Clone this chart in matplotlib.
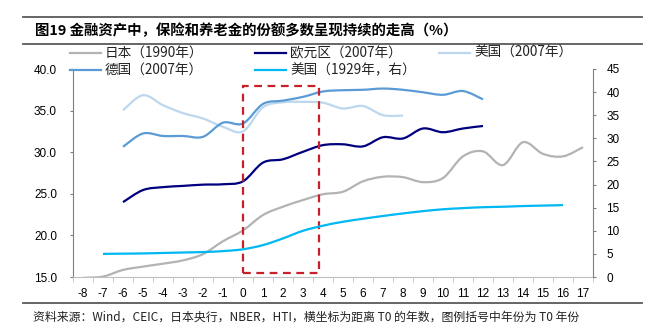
import numpy as np
import matplotlib
matplotlib.use("Agg")
import matplotlib.pyplot as plt
from matplotlib.path import Path
from matplotlib.patches import PathPatch, Rectangle
from matplotlib.lines import Line2D

plt.rcParams['font.family'] = ['Noto Sans CJK SC', 'DejaVu Sans']

# years from T0
x_japan = list(range(-8, 18))
japan = [14.9, 15.05, 15.85, 16.25, 16.6, 17.0, 17.75, 19.3, 20.6, 22.45, 23.45, 24.25, 24.95,
         25.25, 26.5, 27.05, 27.0, 26.4, 26.9, 29.5, 30.1, 28.45, 31.2, 29.8, 29.5, 30.6]
x_euro = list(range(-6, 13))
euro = [24.0, 25.45, 25.8, 25.95, 26.1, 26.15, 26.5, 28.75, 29.15, 30.05, 30.85, 30.95, 30.7,
        31.8, 31.65, 32.85, 32.4, 32.85, 33.15]
x_us07 = list(range(-6, 9))
us07 = [35.05, 36.85, 35.65, 34.7, 34.05, 33.05, 32.5, 35.4, 36.0, 36.05, 35.95, 35.25, 35.55,
        34.45, 34.4]
x_de = list(range(-6, 13))
germany = [30.65, 32.25, 31.95, 31.95, 31.85, 33.55, 33.45, 35.8, 36.2, 36.65, 37.3, 37.45, 37.5,
           37.65, 37.5, 37.2, 36.9, 37.35, 36.35]
x_us29 = list(range(-7, 17))
us29 = [5.0, 5.05, 5.1, 5.2, 5.3, 5.4, 5.6, 6.0, 6.9, 8.35, 10.0, 11.1, 11.95, 12.6, 13.2, 13.75,
        14.25, 14.65, 14.9, 15.1, 15.2, 15.35, 15.45, 15.55]

categories = list(range(-8, 18))
box_x = (0, 3.8)
box_y = (15.45, 38.0)

title = "图19 金融资产中，保险和养老金的份额多数呈现持续的走高（%）"
source = "资料来源：Wind，CEIC，日本央行，NBER，HTI，横坐标为距离 T0 的年数，图例括号中年份为 T0 年份"

c_japan, c_euro, c_us07, c_de, c_us29 = '#B3B3B3', '#00007F', '#BDD7EE', '#5B9BD5', '#00B8F2'


def smooth_path(xs, ys):
    # Excel-like smoothed line (Catmull-Rom -> cubic Bezier)
    pts = np.column_stack([xs, ys]).astype(float)
    ext = np.vstack([pts[0], pts, pts[-1]])
    verts = [pts[0]]
    codes = [Path.MOVETO]
    for i in range(len(pts) - 1):
        p0, p1, p2, p3 = ext[i], ext[i + 1], ext[i + 2], ext[i + 3]
        verts += [p1 + (p2 - p0) / 6, p2 - (p3 - p1) / 6, p2]
        codes += [Path.CURVE4] * 3
    return Path(verts, codes)


def draw(ax, xs, ys, color):
    ax.add_patch(PathPatch(smooth_path(xs, ys), facecolor='none', edgecolor=color,
                           lw=1.6, capstyle='butt'))


fig = plt.figure(figsize=(6.48, 3.36), dpi=100)
ax = fig.add_axes([73 / 648, 1 - 277 / 336, 520 / 648, 208 / 336])
ax2 = ax.twinx()

draw(ax, x_japan, japan, c_japan)
draw(ax, x_us07, us07, c_us07)
draw(ax, x_de, germany, c_de)
draw(ax, x_euro, euro, c_euro)
draw(ax2, x_us29, us29, c_us29)

ax.add_patch(Rectangle((box_x[0], box_y[0]), box_x[1] - box_x[0], box_y[1] - box_y[0],
                       fill=False, edgecolor='#C8202A', lw=1.6, linestyle=(0, (3.5, 2.5))))

ax.set_xlim(-8.5, 17.5)
ax.set_ylim(15, 40)
ax2.set_ylim(0, 45)
ax.set_xticks(categories)
ax.set_xticklabels([str(c) for c in categories])
ax.set_xticks(np.arange(-8.5, 17.6, 1), minor=True)
ax.set_yticks(np.arange(15, 40.1, 5))
ax.set_yticklabels([f"{v:.1f}" for v in np.arange(15, 40.1, 5)])
ax2.set_yticks(np.arange(0, 46, 5))

grey = '#7F7F7F'
for a in (ax, ax2):
    a.spines['top'].set_visible(False)
    a.patch.set_visible(False)
ax.spines['right'].set_visible(False)
ax2.spines['left'].set_visible(False)
ax2.spines['bottom'].set_visible(False)
ax.spines['left'].set_color(grey)
ax.spines['bottom'].set_color('#BFBFBF')
ax2.spines['right'].set_color(grey)

ax.tick_params(axis='x', which='major', length=0, pad=8)
ax.tick_params(axis='x', which='minor', length=3.5, color='#BFBFBF')
ax.tick_params(axis='y', length=2.5, color=grey, pad=9)
ax2.tick_params(axis='y', length=2.5, color=grey, pad=7)
for lab in ax.get_xticklabels() + ax.get_yticklabels() + ax2.get_yticklabels():
    lab.set_fontfamily('Liberation Sans')
    lab.set_fontsize(8.5)

# legend, drawn by hand in figure pixels
legend_items = [
    (70, 53, c_japan, "日本（1990年）"),
    (255, 53, c_euro, "欧元区（2007年）"),
    (439, 53, c_us07, "美国（2007年）"),
    (70, 70, c_de, "德国（2007年）"),
    (255, 70, c_us29, "美国（1929年，右）"),
]
for px, py, col, lab in legend_items:
    y = 1 - py / 336
    fig.add_artist(Line2D([px / 648, (px + 31) / 648], [y, y], color=col, lw=1.6,
                          transform=fig.transFigure))
    fig.text((px + 35) / 648, y, lab, fontsize=9.8, va='center', ha='left', color='#222222')

# header / footer rules
for py in (17, 44, 302.5):
    fig.add_artist(Line2D([23 / 648, 642 / 648], [1 - py / 336] * 2, color='#595959', lw=1.3,
                          transform=fig.transFigure))

fig.text(35 / 648, 1 - 31 / 336, title, fontsize=10.4, weight='bold', va='center', ha='left')
fig.text(33 / 648, 1 - 317 / 336, source, fontsize=8.55, va='center', ha='left', color='#222222')

fig.savefig('out.png', dpi=100)
